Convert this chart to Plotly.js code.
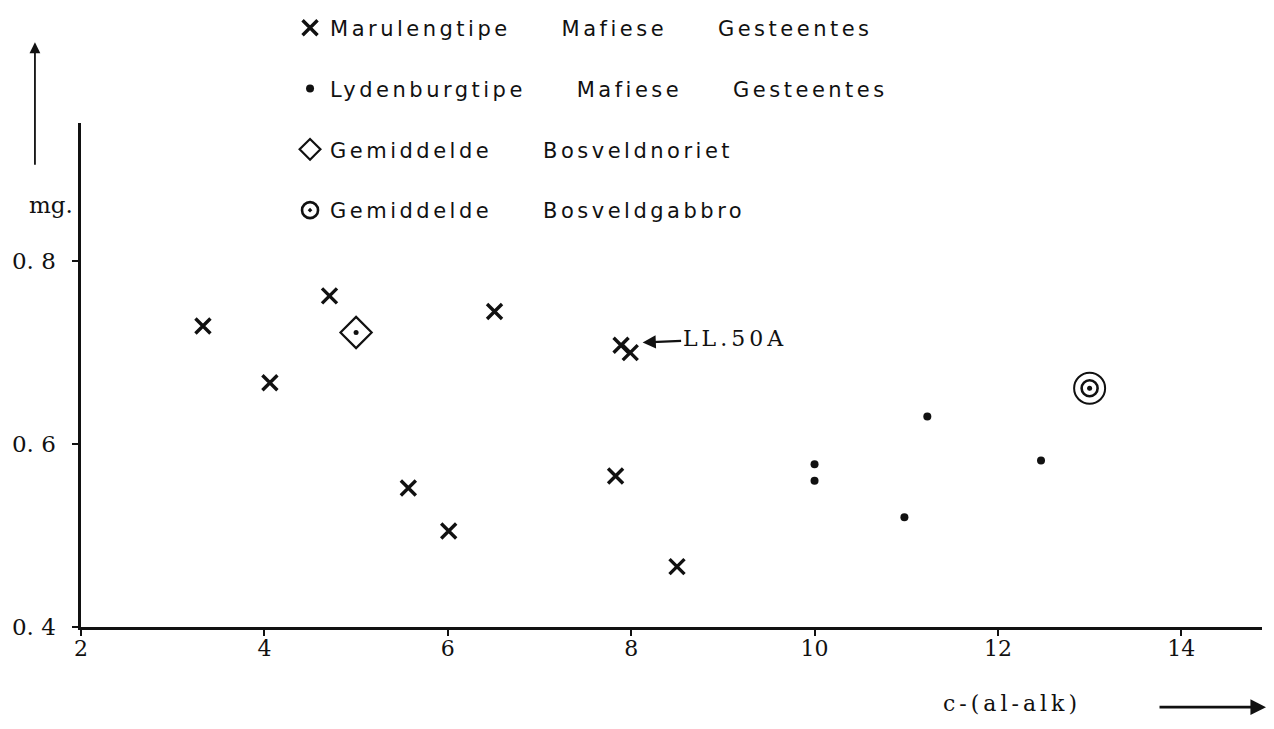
<!DOCTYPE html>
<html>
<head>
<meta charset="utf-8">
<script src="https://cdn.plot.ly/plotly-3.0.1.min.js"></script>
<style>
  html, body { margin: 0; padding: 0; background: #ffffff; }
  #chart { width: 1274px; height: 729px; }
</style>
</head>
<body>
<div id="chart"></div>
<script>
// c-(al-alk) against mg for the mafic rocks
const maruX = [3.33, 4.06, 4.71, 5.57, 6.01, 6.51, 7.83, 7.89, 7.99, 8.50];
const maruY = [0.729, 0.667, 0.762, 0.552, 0.505, 0.745, 0.565, 0.708, 0.700, 0.466];

const lydX = [10.0, 10.0, 10.98, 11.23, 12.47];
const lydY = [0.578, 0.560, 0.520, 0.630, 0.582];

const noritX = [5.0];
const noritY = [0.722];

const gabbroX = [13.0];
const gabbroY = [0.661];

const xTicks = [2, 4, 6, 8, 10, 12, 14];
const xTickText = ['2', '4', '6', '8', '10', '12', '14'];
const yTicks = [0.4, 0.6, 0.8];
const yTickText = ['0. 4', '0. 6', '0. 8'];

const gap = '\u00A0\u00A0\u00A0\u00A0\u00A0';
const seriesNames = [
  ['Marulengtipe', 'Mafiese', 'Gesteentes'],
  ['Lydenburgtipe', 'Mafiese', 'Gesteentes'],
  ['Gemiddelde', 'Bosveldnoriet'],
  ['Gemiddelde', 'Bosveldgabbro']
];
const pointLabel = 'LL.50A';
const xName = 'c-(al-alk)';
const yName = 'mg.';

const ink = '#111111';
const serif = 'DejaVu Serif, Liberation Serif, serif';
const hand = 'DejaVu Sans, Liberation Sans, sans-serif';

// spaced lettering, kept inline so the text measurement includes it
const spaced = (s, px) => '<span style="letter-spacing:' + px + 'px">' + s + '</span>';
const legendName = words => spaced(words.join(gap), 3.5);

const traces = [
  {
    x: maruX, y: maruY, type: 'scatter', mode: 'markers',
    name: legendName(seriesNames[0]), legendgroup: 'a',
    marker: { symbol: 'x-thin', size: 15, color: ink, line: { color: ink, width: 3.4 } }
  },
  {
    x: lydX, y: lydY, type: 'scatter', mode: 'markers',
    name: legendName(seriesNames[1]), legendgroup: 'b',
    marker: { symbol: 'circle', size: 8, color: ink }
  },
  {
    x: noritX, y: noritY, type: 'scatter', mode: 'markers',
    name: legendName(seriesNames[2]), legendgroup: 'c',
    marker: { symbol: 'diamond-open', size: 24, color: ink, line: { color: ink, width: 2.2 } }
  },
  {
    x: noritX, y: noritY, type: 'scatter', mode: 'markers',
    legendgroup: 'c', showlegend: false,
    marker: { symbol: 'circle', size: 5, color: ink }
  },
  {
    x: gabbroX, y: gabbroY, type: 'scatter', mode: 'markers',
    legendgroup: 'd', showlegend: false,
    marker: { symbol: 'circle-open', size: 31, color: ink, line: { color: ink, width: 2 } }
  },
  {
    x: gabbroX, y: gabbroY, type: 'scatter', mode: 'markers',
    name: legendName(seriesNames[3]), legendgroup: 'd',
    marker: { symbol: 'circle-open-dot', size: 16, color: ink, line: { color: ink, width: 2.6 } }
  },
  {
    x: gabbroX, y: gabbroY, type: 'scatter', mode: 'markers',
    legendgroup: 'd', showlegend: false,
    marker: { symbol: 'circle', size: 5, color: ink }
  }
];

const layout = {
  width: 1274, height: 729,
  margin: { l: 81, r: 12, t: 123, b: 102, autoexpand: false },
  paper_bgcolor: '#ffffff', plot_bgcolor: '#ffffff',
  showlegend: true,
  legend: {
    x: 0.177, y: 1.229, xanchor: 'left', yanchor: 'top',
    bgcolor: 'rgba(0,0,0,0)', borderwidth: 0,
    font: { family: hand, size: 21, color: ink },
    tracegroupgap: 30.5, itemsizing: 'trace'
  },
  xaxis: {
    range: [2, 14.88], showgrid: false, zeroline: false,
    showline: true, linecolor: ink, linewidth: 2.6,
    tickmode: 'array', tickvals: xTicks, ticktext: xTickText,
    ticks: 'outside', ticklen: 6, tickwidth: 2, tickcolor: ink,
    ticklabelstandoff: -6,
    tickfont: { family: serif, size: 22, color: ink }
  },
  yaxis: {
    range: [0.4, 0.951], showgrid: false, zeroline: false,
    showline: true, linecolor: ink, linewidth: 2.6,
    tickmode: 'array', tickvals: yTicks, ticktext: yTickText,
    ticks: 'outside', ticklen: 6, tickwidth: 2, tickcolor: ink,
    ticklabelstandoff: 12,
    tickfont: { family: serif, size: 23, color: ink }
  },
  annotations: [
    {
      text: yName, xref: 'paper', yref: 'paper', x: -0.025, y: 0.837,
      xanchor: 'center', yanchor: 'middle', showarrow: false,
      font: { family: serif, size: 23, color: ink }
    },
    {
      text: spaced(xName, 4), xref: 'paper', yref: 'paper', x: 0.788, y: -0.151,
      xanchor: 'center', yanchor: 'middle', showarrow: false,
      font: { family: serif, size: 22, color: ink }
    },
    {
      // arrow along the x direction
      text: '', xref: 'paper', yref: 'paper', x: 1.0034, y: -0.159,
      showarrow: true, arrowhead: 2, arrowsize: 1.2, arrowwidth: 2.6, arrowcolor: ink,
      ax: -108, ay: 0
    },
    {
      // arrow along the y direction
      text: '', xref: 'paper', yref: 'paper', x: -0.039, y: 1.16,
      showarrow: true, arrowhead: 2, arrowsize: 1.2, arrowwidth: 1.8, arrowcolor: ink,
      ax: 0, ay: 124
    },
    {
      text: spaced(pointLabel, 4), xref: 'x', yref: 'y', x: 8.125, y: 0.711,
      showarrow: true, arrowhead: 2, arrowsize: 1.1, arrowwidth: 2.4, arrowcolor: ink,
      ax: 92, ay: -4, standoff: 0,
      font: { family: serif, size: 22, color: ink }
    }
  ]
};

Plotly.newPlot('chart', traces, layout, { displayModeBar: false, staticPlot: true });
</script>
</body>
</html>
